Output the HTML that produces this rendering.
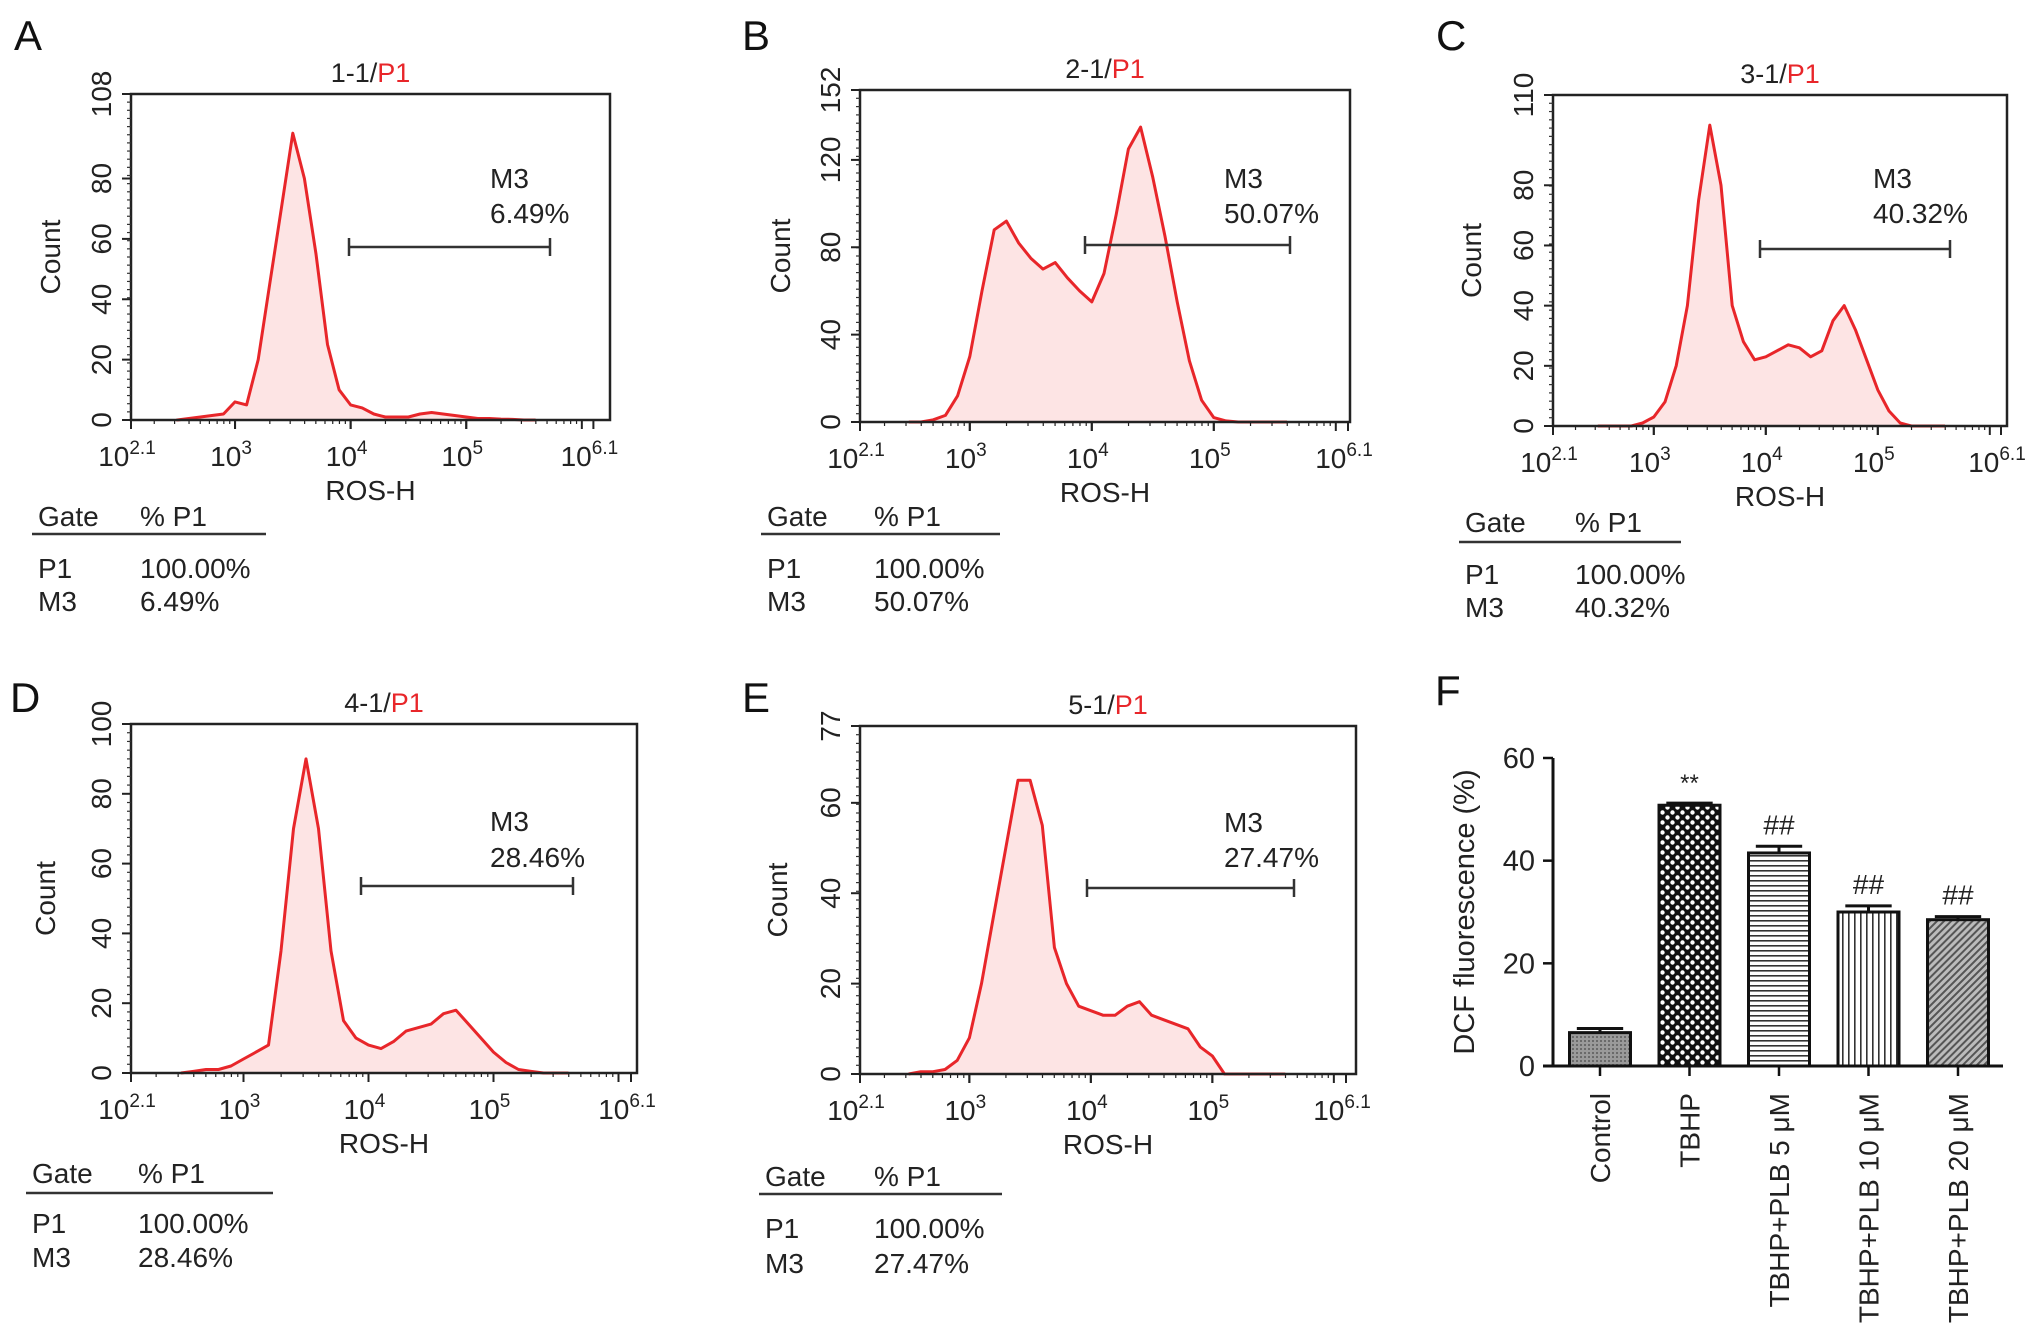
<!DOCTYPE html>
<html><head><meta charset="utf-8"><style>
html,body{margin:0;padding:0;background:#fff}
svg{display:block;font-family:"Liberation Sans",Arial,sans-serif}
</style></head><body>
<svg id="fig" width="2032" height="1341" viewBox="0 0 2032 1341" xmlns="http://www.w3.org/2000/svg">
<defs>
<pattern id="pCtrl" width="4" height="4" patternUnits="userSpaceOnUse"><rect width="4" height="4" fill="#9a9a9a"/><rect width="2" height="2" fill="#6a6a6a"/></pattern>
<pattern id="pDots" width="10" height="10" patternUnits="userSpaceOnUse"><rect width="10" height="10" fill="#111"/><circle cx="2.5" cy="2.5" r="2.2" fill="#fff"/><circle cx="7.5" cy="7.5" r="2.2" fill="#fff"/></pattern>
<pattern id="pH" width="6" height="5" patternUnits="userSpaceOnUse"><rect width="6" height="5" fill="#fff"/><rect y="0" width="6" height="1.6" fill="#333"/></pattern>
<pattern id="pV" width="6" height="6" patternUnits="userSpaceOnUse"><rect width="6" height="6" fill="#fff"/><rect x="0" width="1.6" height="6" fill="#333"/></pattern>
<pattern id="pD" width="5" height="5" patternUnits="userSpaceOnUse" patternTransform="rotate(45)"><rect width="5" height="5" fill="#bbb"/><rect width="2" height="5" fill="#555"/></pattern>
</defs>
</svg>
<script>
// ---- histogram data (log10 ROS-H grid, counts) ----
const logGrid = [2.5,2.6,2.7,2.8,2.9,3.0,3.1,3.2,3.3,3.4,3.5,3.6,3.7,3.8,3.9,4.0,4.1,4.2,4.3,4.4,4.5,4.6,4.7,4.8,4.9,5.0,5.1,5.2,5.3,5.4,5.5,5.6];
const countsA = [0,0.5,1,1.5,2,6,5,20,45,70,95,80,55,25,10,5,4,2,1,1,1,2,2.5,2,1.5,1,0.5,0.5,0.3,0.2,0,0];
const countsB = [0,0,1,3,12,30,60,88,92,82,75,70,73,66,60,55,68,95,125,135,112,85,55,28,10,2,0.5,0,0,0,0,0];
const countsC = [0,0,0,0,1,3,8,20,40,75,100,80,40,28,22,23,25,27,26,23,25,35,40,32,22,12,5,1,0,0,0,0];
const countsD = [0,0.5,1,1,2,4,6,8,35,70,90,70,35,15,10,8,7,9,12,13,14,17,18,14,10,6,3,1,0.5,0,0,0];
const countsE = [0,0.5,0.5,1,3,8,20,35,50,65,65,55,28,20,15,14,13,13,15,16,13,12,11,10,6,4,0,0,0,0,0,0];
const yTicksA = [0,20,40,60,80,108];
const yTicksB = [0,40,80,120,152];
const yTicksC = [0,20,40,60,80,110];
const yTicksD = [0,20,40,60,80,100];
const yTicksE = [0,20,40,60,77];
const titles = ["1-1","2-1","3-1","4-1","5-1"];
const m3Values = ["6.49%","50.07%","40.32%","28.46%","27.47%"];
const xTickExps = ["2.1","3","4","5","6.1"];
const xTickLogs = [2.1,3,4,5,6.1];
// ---- bar chart data ----
const barCategories = ["Control","TBHP","TBHP+PLB 5 μM","TBHP+PLB 10 μM","TBHP+PLB 20 μM"];
const barValues = [6.5,50.8,41.5,30.0,28.5];
const barErrors = [0.8,0.4,1.3,1.2,0.6];
const barMarks = ["","**","##","##","##"];
const barTicks = [0,20,40,60];

const NS="http://www.w3.org/2000/svg";
const svg=document.getElementById('fig');
function el(tag,attrs,parent,text){const e=document.createElementNS(NS,tag);for(const k in attrs)e.setAttribute(k,attrs[k]);if(text!==undefined)e.textContent=text;(parent||svg).appendChild(e);return e;}

const panels=[
 {letter:"A",lx:14,ly:50,x0:131,x1:610,y0:94,y1:420,dec:115.6,ymax:108,counts:countsA,ticks:yTicksA,gate:[32,266,516,534,568,601,140],m3:[349,550,247,490,178,213],countX:50},
 {letter:"B",lx:742,ly:50,x0:860,x1:1350,y0:90,y1:422,dec:122,ymax:152,counts:countsB,ticks:yTicksB,gate:[761,1000,516,534,568,601,874],m3:[1085,1290,245,1224,178,213],countX:780},
 {letter:"C",lx:1436,ly:50,x0:1553,x1:2007,y0:95,y1:426,dec:112,ymax:110,counts:countsC,ticks:yTicksC,gate:[1459,1681,522,542,574,607,1575],m3:[1760,1950,249,1873,178,213],countX:1471},
 {letter:"D",lx:10,ly:712,x0:131,x1:637,y0:724,y1:1073,dec:125,ymax:100,counts:countsD,ticks:yTicksD,gate:[26,273,1173,1193,1223,1257,138],m3:[361,573,886,490,821,857],countX:45},
 {letter:"E",lx:742,ly:712,x0:860,x1:1356,y0:726,y1:1074,dec:121.5,ymax:77,counts:countsE,ticks:yTicksE,gate:[759,1002,1176,1194,1228,1263,874],m3:[1087,1294,888,1224,822,857],countX:777}
];
const RED="#e8262a";
panels.forEach((p,i)=>{
 const g=el('g',{});
 
 
 const xs=l=>p.x0+(l-2.1)*p.dec;
 const ys=v=>p.y1-v/p.ymax*(p.y1-p.y0);
 const L=el('text',{x:p.lx,y:p.ly,'font-size':42,fill:'#111'},g,p.letter);
 
 
 const cx=(p.x0+p.x1)/2;
 const t=el('text',{x:cx,y:p.y0-12,'font-size':27,'text-anchor':'middle',fill:'#222'},g);
 
 
 el('tspan',{},t,titles[i]+"/");el('tspan',{fill:RED},t,"P1");
 let d="M"+xs(logGrid[0])+","+ys(0);
 logGrid.forEach((l,k)=>{d+=" L"+xs(l).toFixed(1)+","+ys(p.counts[k]).toFixed(1);});
 const area=el('path',{d:d+" L"+xs(logGrid[logGrid.length-1])+","+ys(0)+"Z",fill:'#fde4e4',stroke:'none'},g);
 
 
 let dl="M"+xs(logGrid[0])+","+ys(p.counts[0]).toFixed(1);
 logGrid.forEach((l,k)=>{dl+=" L"+xs(l).toFixed(1)+","+ys(p.counts[k]).toFixed(1);});
 const line=el('path',{d:dl,fill:'none',stroke:RED,'stroke-width':3,'stroke-linejoin':'round'},g);
 
 
 const box=el('rect',{x:p.x0,y:p.y0,width:p.x1-p.x0,height:p.y1-p.y0,fill:'none',stroke:'#222','stroke-width':2.5},g);
 
 
 for(let k=0;k<=40;k++){const yy=p.y1-k*(p.y1-p.y0)/40;el('line',{x1:p.x0-4,x2:p.x0,y1:yy,y2:yy,stroke:'#333','stroke-width':1.2},g);}
 p.ticks.forEach(v=>{
  const yy=ys(v);
  el('line',{x1:p.x0-9,x2:p.x0,y1:yy,y2:yy,stroke:'#222','stroke-width':2},g);
  const tl=el('text',{x:p.x0-20,y:yy,'font-size':28,'text-anchor':'middle',fill:'#222',transform:`rotate(-90 ${p.x0-20} ${yy})`},g,String(v));
  
  
 });
 for(let dcd=2;dcd<=6;dcd++){for(let m=1;m<10;m++){const l=dcd+Math.log10(m);if(l<2.1||l>6.25)continue;const xx=xs(l);el('line',{x1:xx,x2:xx,y1:p.y1,y2:p.y1+(m===1?9:4),stroke:'#222','stroke-width':m===1?2:1.2},g);}}
 xTickLogs.forEach((l,k)=>{
  const xx=xs(l);
  el('line',{x1:xx,x2:xx,y1:p.y1,y2:p.y1+9,stroke:'#222','stroke-width':2},g);
  const tl=el('text',{x:xx-4,y:p.y1+46,'font-size':28,'text-anchor':'middle',fill:'#222'},g);
  
  
  el('tspan',{},tl,"10");el('tspan',{dy:-12,'font-size':19},tl,xTickExps[k]);
 });
 const xt=el('text',{x:cx,y:p.y1+80,'font-size':28,'text-anchor':'middle',fill:'#222'},g,"ROS-H");
 
 
 const cyc=(p.y0+p.y1)/2;
 const yt=el('text',{x:p.countX+10,y:cyc,'font-size':28,'text-anchor':'middle',fill:'#222',transform:`rotate(-90 ${p.countX+10} ${cyc})`},g,"Count");
 
 
 const m=p.m3;
 const gm=el('g',{stroke:'#333','stroke-width':2.5},g);
 
 
 el('line',{x1:m[0],x2:m[1],y1:m[2],y2:m[2]},gm);
 el('line',{x1:m[0],x2:m[0],y1:m[2]-9,y2:m[2]+9},gm);
 el('line',{x1:m[1],x2:m[1],y1:m[2]-9,y2:m[2]+9},gm);
 const mt=el('text',{x:m[3],y:m[4]+10,'font-size':28,fill:'#222'},g,"M3");
 
 
 const mp=el('text',{x:m[3],y:m[5]+10,'font-size':28,fill:'#222'},g,m3Values[i]);
 
 
 const q=p.gate;
 const tb=el('g',{'font-size':28,fill:'#222'},g);
 
 
 el('text',{x:q[0]+6,y:q[2]+10},tb,"Gate");el('text',{x:q[6],y:q[2]+10},tb,"% P1");
 el('line',{x1:q[0],x2:q[1],y1:q[3],y2:q[3],stroke:'#333','stroke-width':2.5},tb);
 el('text',{x:q[0]+6,y:q[4]+10},tb,"P1");el('text',{x:q[6],y:q[4]+10},tb,"100.00%");
 el('text',{x:q[0]+6,y:q[5]+10},tb,"M3");el('text',{x:q[6],y:q[5]+10},tb,m3Values[i]);
});

// ---- bar chart F ----
(function(){
 const g=el('g',{});
 
 
 const ax0=1553,ax1=2003,yb=1066,yt=758,ymax=60;
 const ys=v=>yb-v/ymax*(yb-yt);
 const step=89.5,first=1600,bw=61;
 const xs=i=>first+i*step;
 const L=el('text',{x:1435,y:705,'font-size':42,fill:'#111'},g,"F");
 
 
 const fills=["url(#pCtrl)","url(#pDots)","url(#pH)","url(#pV)","url(#pD)"];
 barValues.forEach((v,i)=>{
  const x=xs(i);
  const eb=el('g',{stroke:'#111','stroke-width':3},g);
  
  
  el('line',{x1:x,x2:x,y1:ys(v),y2:ys(v+barErrors[i])},eb);
  el('line',{x1:x-bw*0.38,x2:x+bw*0.38,y1:ys(v+barErrors[i]),y2:ys(v+barErrors[i])},eb);
  const r=el('rect',{x:x-bw/2,y:ys(v),width:bw,height:yb-ys(v),fill:fills[i],stroke:'#111','stroke-width':3},g);
  
  
  if(barMarks[i]){const a=el('text',{x:x,y:ys(v+barErrors[i])-12,'font-size':barMarks[i]==="**"?24:28,'text-anchor':'middle',fill:'#222'},g,barMarks[i]);
   
   }
  el('line',{x1:x,x2:x,y1:yb,y2:yb+10,stroke:'#111','stroke-width':2.5},g);
  const cl=el('text',{x:x+10,y:yb+27,'font-size':28,'text-anchor':'end',fill:'#222',transform:`rotate(-90 ${x+10} ${yb+27})`},g,barCategories[i]);
  
  
 });
 el('line',{x1:ax0,x2:ax0,y1:yt,y2:yb,stroke:'#111','stroke-width':3},g);
 el('line',{x1:ax0-10,x2:ax1,y1:yb,y2:yb,stroke:'#111','stroke-width':3},g);
 barTicks.forEach(v=>{
  el('line',{x1:ax0-10,x2:ax0,y1:ys(v),y2:ys(v),stroke:'#111','stroke-width':2.5},g);
  const t=el('text',{x:ax0-18,y:ys(v)+10,'font-size':29,'text-anchor':'end',fill:'#222'},g,String(v));
  
  
 });
 const cy=(yt+yb)/2;
 const yl=el('text',{x:1474,y:cy,'font-size':29,'text-anchor':'middle',fill:'#222',transform:`rotate(-90 1474 ${cy})`},g,"DCF fluorescence (%)");
 
 
})();
</script>
</body></html>
